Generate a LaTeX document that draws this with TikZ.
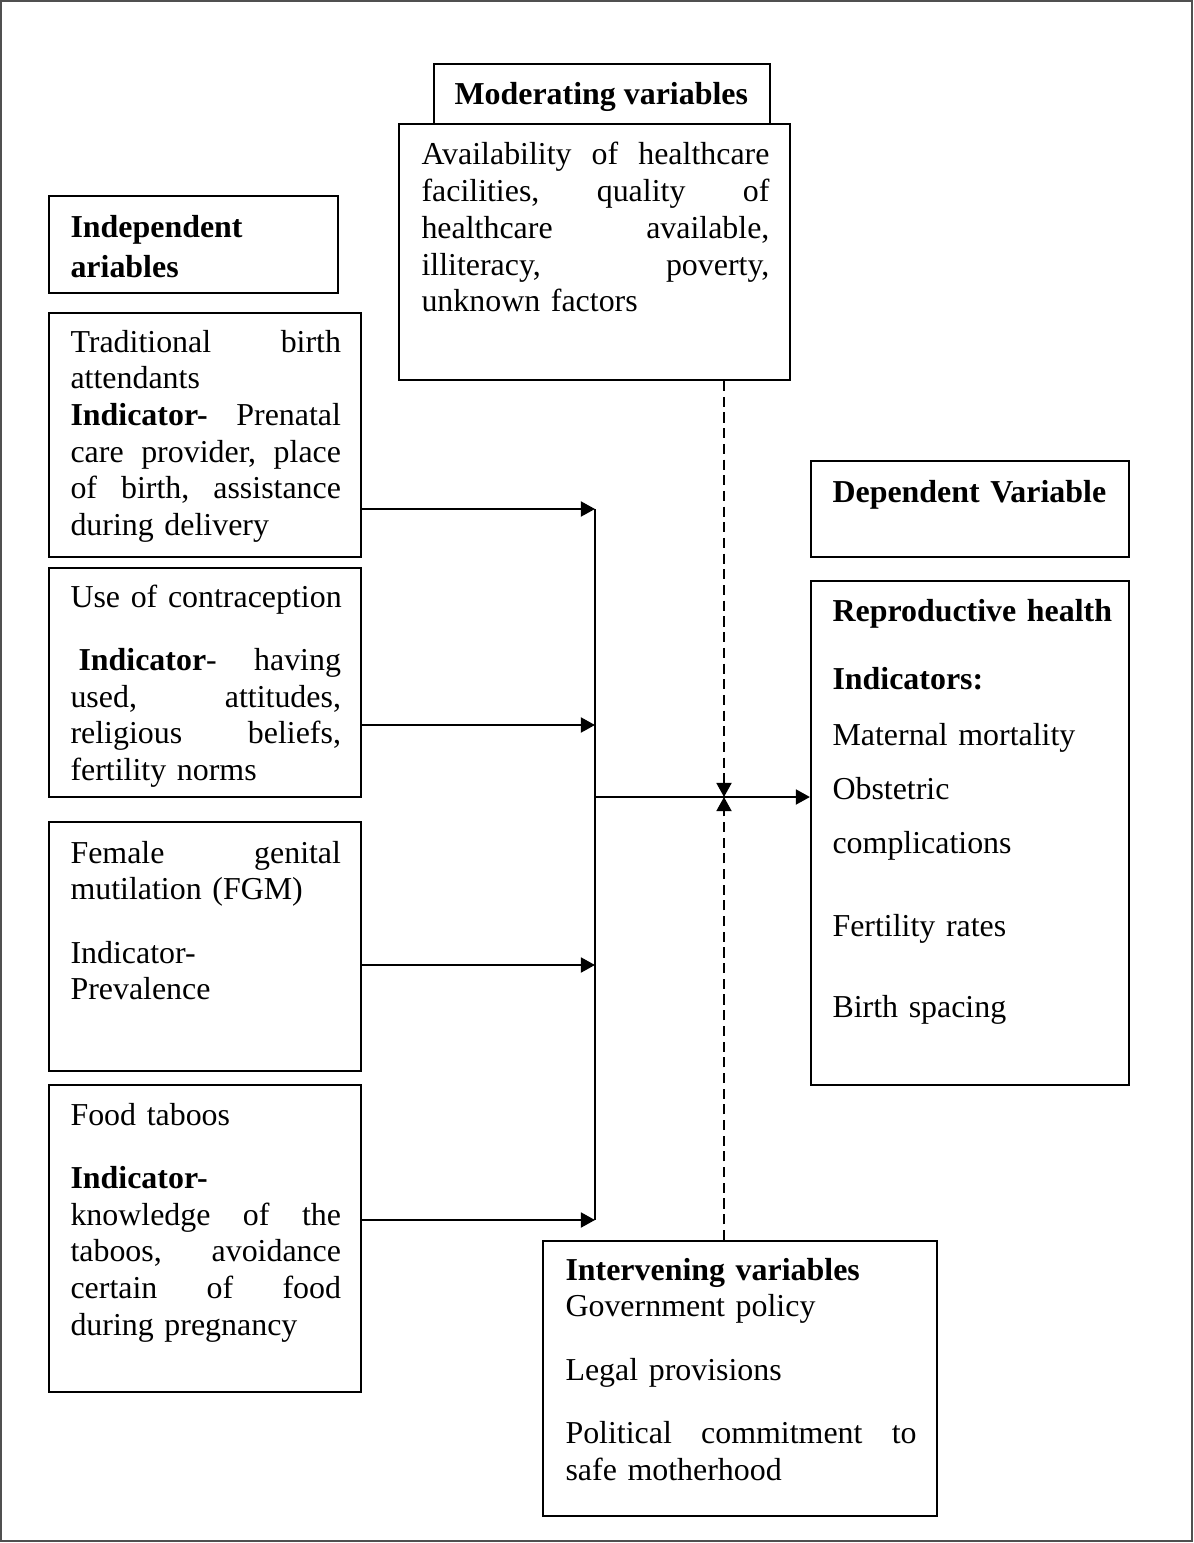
\documentclass[tikz,border=0pt]{standalone}
\usepackage{fontspec}
\setmainfont{Liberation Serif}
\usepackage{tikz}
\usetikzlibrary{positioning,arrows.meta,fit,calc}
\definecolor{framegray}{RGB}{80,80,80}
\tikzset{
  varbox/.style={draw=black, line width=0.8pt, inner sep=0pt},
  boxtxt/.style={anchor=base west, inner sep=0pt, align=left,
                 font=\fontsize{12}{13.8}\selectfont},
  headtxt/.style={boxtxt, font=\fontsize{12}{13.8}\selectfont\bfseries},
  arr/.style={-{Triangle[length=5.3pt,width=5.6pt]}, line width=0.85pt},
  modarr/.style={arr, dash pattern=on 3.8pt off 2.1pt}
}

\begin{document}
\begin{tikzpicture}[x=0.376pt, y=-0.376pt]
  \useasboundingbox (0,0) rectangle (1193,1543);
  \draw[framegray, line width=0.5pt] (1,1) rectangle (1192,1541);

  % boxes
  \node[varbox, fit={(434,64) (770,124)}] (modhead) {};
  \node[varbox, fit={(399,124) (790,380)}] (modbody) {};
  \node[varbox, fit={(49,196) (338,293)}] (indhead) {};
  \node[varbox, fit={(49,313) (361,557)}] (tba) {};
  \node[varbox, fit={(49,568) (361,797)}] (contra) {};
  \node[varbox, fit={(49,822) (361,1071)}] (fgm) {};
  \node[varbox, fit={(49,1085) (361,1392)}] (food) {};
  \node[varbox, fit={(811,461) (1129,557)}] (dephead) {};
  \node[varbox, fit={(811,581) (1129,1085)}] (rh) {};
  \node[varbox, fit={(543,1241) (937,1516)}] (intv) {};

  % texts
  \node[headtxt] (modheadtxt) at (454,105) {Moderating variables};
  \node[boxtxt, text width=130.8pt] (modbodytxt) at (421,165)
       {Availability \hfill of \hfill healthcare\\
        facilities, \hfill quality \hfill of\\
        healthcare \hfill available,\\
        illiteracy, \hfill poverty,\\
        unknown factors};
  \node[headtxt, text width=100pt] (indheadtxt) at (70,237) {Independent\\[1.6pt]ariables};
  \node[boxtxt, text width=101.7pt] (tbatxt) at (70,352)
       {Traditional \hfill birth\\
        attendants\\
        \textbf{Indicator-} \hfill Prenatal\\
        care \hfill provider, \hfill place\\
        of \hfill birth, \hfill assistance\\
        during delivery};
  \node[boxtxt, text width=101.7pt] (contratxt) at (70,607)
       {\mbox{Use of contraception}\\[10pt]
        \hspace*{3pt}\textbf{Indicator}- \hfill having\\
        used, \hfill attitudes,\\
        religious \hfill beliefs,\\
        fertility norms};
  \node[boxtxt, text width=101.7pt] (fgmtxt) at (70,863)
       {Female \hfill genital\\
        mutilation (FGM)\\[10pt]
        Indicator-\\
        Prevalence};
  \node[boxtxt, text width=101.7pt] (foodtxt) at (70,1125)
       {Food taboos\\[10pt]
        \textbf{Indicator-}\\
        knowledge \hfill of \hfill the\\
        taboos, \hfill avoidance\\
        certain \hfill of \hfill food\\
        during pregnancy};
  \node[headtxt, text width=110pt] (depheadtxt) at (832,502) {Dependent Variable};
  \node[boxtxt, text width=110pt] (rhtxt) at (832,621)
       {\textbf{Reproductive health}\\[11.8pt]
        \textbf{Indicators:}\\[7.3pt]
        Maternal mortality\\[6.5pt]
        Obstetric\\[6.5pt]
        complications\\[17.4pt]
        Fertility rates\\[16.7pt]
        Birth spacing};
  \node[boxtxt, text width=132pt] (intvtxt) at (565,1280)
       {\textbf{Intervening variables}\\
        Government policy\\[10pt]
        Legal provisions\\[10pt]
        Political \hfill commitment \hfill to\\
        safe motherhood};

  % connectors
  \coordinate (bus1) at (595,509);
  \coordinate (bus2) at (595,725);
  \coordinate (bus3) at (595,965);
  \coordinate (bus4) at (595,1220);
  \coordinate (hub) at (595,797);
  \coordinate (meet) at (724,797);
  \draw[arr] (tba.east |- bus1) -- (bus1);
  \draw[arr] (contra.east |- bus2) -- (bus2);
  \draw[arr] (fgm.east |- bus3) -- (bus3);
  \draw[arr] (food.east |- bus4) -- (bus4);
  \draw[line width=0.85pt] (bus1) -- (bus4);
  \draw[arr] (hub) -- (rh.west |- hub);
  \draw[modarr] (modbody.south -| meet) -- (meet);
  \draw[modarr] (intv.north -| meet) -- (meet);
\end{tikzpicture}
\end{document}
